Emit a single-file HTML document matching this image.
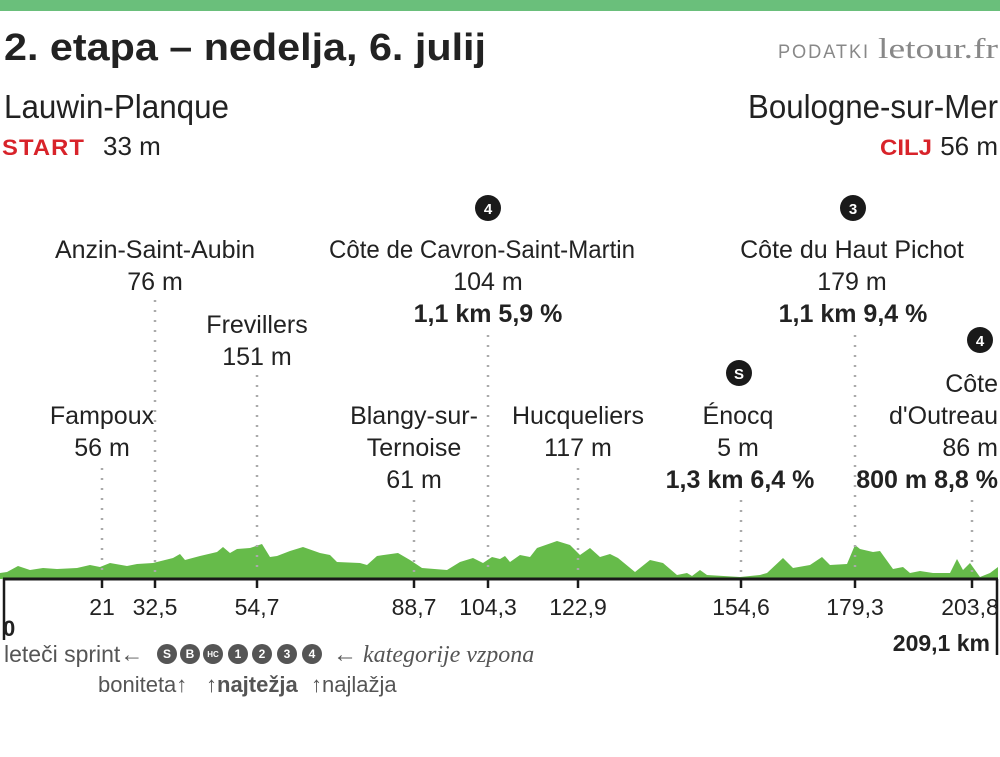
<!DOCTYPE html>
<html><head><meta charset="utf-8"><style>
html,body{margin:0;padding:0;background:#fff;}
svg{display:block;}
text{font-family:"Liberation Sans Narrow","Liberation Sans",sans-serif;fill:#222;}
.l{font-size:25px;text-anchor:middle;}
.b{font-weight:bold;}
.t{font-size:23px;text-anchor:middle;}
.dot{stroke:#aaa;stroke-width:2.5;stroke-dasharray:2 8;}
.bd circle{fill:#1a1a1a;}
.bd text{fill:#fff;font-size:15px;font-weight:bold;text-anchor:middle;font-family:"Liberation Sans",sans-serif;}
.lg circle{fill:#555;}
.lg text{fill:#fff;font-size:12px;font-weight:bold;text-anchor:middle;font-family:"Liberation Sans",sans-serif;}
</style></head><body>
<svg width="1000" height="757" viewBox="0 0 1000 757">
<rect x="0" y="0" width="1000" height="11" fill="#6abf7b"/>
<text x="4" y="60" font-size="38" font-weight="bold" textLength="482" lengthAdjust="spacingAndGlyphs">2. etapa  – nedelja, 6. julij</text>
<text x="778" y="58" font-size="19" style="fill:#888;letter-spacing:2px" textLength="92" lengthAdjust="spacingAndGlyphs">PODATKI</text>
<text x="878" y="58" font-size="29" style="fill:#888;font-family:'Liberation Serif',serif" textLength="120" lengthAdjust="spacingAndGlyphs">letour.fr</text>
<text x="4" y="118" font-size="33" textLength="225" lengthAdjust="spacingAndGlyphs">Lauwin-Planque</text>
<text x="998" y="118" font-size="33" text-anchor="end" textLength="250" lengthAdjust="spacingAndGlyphs">Boulogne-sur-Mer</text>
<text x="2" y="155" font-size="22" font-weight="bold" style="fill:#d8232a;letter-spacing:1px" textLength="83" lengthAdjust="spacingAndGlyphs">START</text>
<text x="103" y="155" font-size="26">33 m</text>
<text x="880" y="155" font-size="22" font-weight="bold" style="fill:#d8232a" textLength="52" lengthAdjust="spacingAndGlyphs">CILJ</text>
<text x="998" y="155" font-size="26" text-anchor="end">56 m</text>

<!-- profile -->
<polygon fill="#66bb4a" points="0,579 0,573 7,572 18,566 30,570 43,568 57,569 77,568 90,565 100,567 110,563 127,566 137,564 153,563 173,558 180,554 185,560 200,556 217,552 223,547 230,553 237,549 250,548 262,544 270,557 277,556 290,551 303,547 320,553 330,555 337,562 360,563 367,565 377,556 398,553 410,560 422,568 447,570 460,562 473,558 483,563 492,557 500,559 505,556 510,562 520,555 530,557 537,548 557,541 570,545 580,555 590,548 600,557 610,554 618,558 635,572 650,560 663,563 677,575 687,573 692,576 700,570 707,575 740,577 760,575 767,573 783,558 793,568 810,565 822,557 830,565 847,564 855,545 860,549 873,552 880,551 893,569 903,567 910,573 920,571 933,573 950,573 957,559 963,570 970,563 980,577 990,573 998,567 998,579"/>

<!-- dotted lines -->
<line class="dot" x1="102" y1="468" x2="102" y2="575"/>
<line class="dot" x1="155" y1="300" x2="155" y2="575"/>
<line class="dot" x1="257" y1="375" x2="257" y2="575"/>
<line class="dot" x1="414" y1="500" x2="414" y2="575"/>
<line class="dot" x1="488" y1="335" x2="488" y2="575"/>
<line class="dot" x1="578" y1="468" x2="578" y2="575"/>
<line class="dot" x1="741" y1="500" x2="741" y2="575"/>
<line class="dot" x1="855" y1="335" x2="855" y2="575"/>
<line class="dot" x1="972" y1="500" x2="972" y2="575"/>

<line x1="3" y1="579" x2="998" y2="579" stroke="#1a1a1a" stroke-width="3"/>
<line x1="4" y1="579" x2="4" y2="640" stroke="#1a1a1a" stroke-width="2.5"/>
<line x1="997" y1="579" x2="997" y2="655" stroke="#1a1a1a" stroke-width="2.5"/>
<g stroke="#1a1a1a" stroke-width="2.5">
<line x1="102" y1="579" x2="102" y2="588"/><line x1="155" y1="579" x2="155" y2="588"/><line x1="257" y1="579" x2="257" y2="588"/><line x1="414" y1="579" x2="414" y2="588"/><line x1="488" y1="579" x2="488" y2="588"/><line x1="578" y1="579" x2="578" y2="588"/><line x1="741" y1="579" x2="741" y2="588"/><line x1="855" y1="579" x2="855" y2="588"/><line x1="972" y1="579" x2="972" y2="588"/>
</g>
<text class="t" x="102" y="615">21</text><text class="t" x="155" y="615">32,5</text><text class="t" x="257" y="615">54,7</text><text class="t" x="414" y="615">88,7</text><text class="t" x="488" y="615">104,3</text><text class="t" x="578" y="615">122,9</text><text class="t" x="741" y="615">154,6</text><text class="t" x="855" y="615">179,3</text><text class="t" x="970" y="615">203,8</text>
<text x="3" y="636" font-size="22" font-weight="bold">0</text>
<text x="990" y="651" font-size="23" font-weight="bold" text-anchor="end">209,1 km</text>

<!-- labels -->
<text class="l" x="155" y="258">Anzin-Saint-Aubin</text>
<text class="l" x="155" y="290">76 m</text>
<text class="l" x="257" y="333">Frevillers</text>
<text class="l" x="257" y="365">151 m</text>
<text class="l" x="102" y="424">Fampoux</text>
<text class="l" x="102" y="456">56 m</text>
<text class="l" x="414" y="424">Blangy-sur-</text>
<text class="l" x="414" y="456">Ternoise</text>
<text class="l" x="414" y="488">61 m</text>
<text class="l" x="482" y="258" textLength="306" lengthAdjust="spacingAndGlyphs">Côte de Cavron-Saint-Martin</text>
<text class="l" x="488" y="290">104 m</text>
<text class="l b" x="488" y="322">1,1 km 5,9 %</text>
<text class="l" x="578" y="424">Hucqueliers</text>
<text class="l" x="578" y="456">117 m</text>
<text class="l" x="738" y="424">Énocq</text>
<text class="l" x="738" y="456">5 m</text>
<text class="l b" x="740" y="488">1,3 km 6,4 %</text>
<text class="l" x="852" y="258">Côte du Haut Pichot</text>
<text class="l" x="852" y="290">179 m</text>
<text class="l b" x="853" y="322">1,1 km 9,4 %</text>
<text class="l" x="998" y="392" style="text-anchor:end">Côte</text>
<text class="l" x="998" y="424" style="text-anchor:end">d'Outreau</text>
<text class="l" x="998" y="456" style="text-anchor:end">86 m</text>
<text class="l b" x="998" y="488" style="text-anchor:end">800 m 8,8 %</text>
<g class="bd">
<circle cx="488" cy="208" r="13"/><text x="488" y="214">4</text>
<circle cx="853" cy="208" r="13"/><text x="853" y="214">3</text>
<circle cx="739" cy="373" r="13"/><text x="739" y="379">S</text>
<circle cx="980" cy="340" r="13"/><text x="980" y="346">4</text>
</g>

<!-- legend -->
<text x="4" y="662" font-size="23" style="fill:#555">leteči sprint←</text>
<g class="lg">
<circle cx="167" cy="654" r="10"/><text x="167" y="658">S</text>
<circle cx="190" cy="654" r="10"/><text x="190" y="658">B</text>
<circle cx="213" cy="654" r="10"/><text x="213" y="657" style="font-size:8px">HC</text>
<circle cx="238" cy="654" r="10"/><text x="238" y="658">1</text>
<circle cx="262" cy="654" r="10"/><text x="262" y="658">2</text>
<circle cx="287" cy="654" r="10"/><text x="287" y="658">3</text>
<circle cx="312" cy="654" r="10"/><text x="312" y="658">4</text>
</g>
<text x="333" y="662" font-size="24" style="fill:#555;font-family:'Liberation Serif',serif;font-style:italic">← kategorije vzpona</text>
<text x="98" y="692" font-size="22" style="fill:#555">boniteta↑</text>
<text x="206" y="692" font-size="22" style="fill:#555"><tspan>↑</tspan><tspan font-weight="bold">najtežja</tspan></text>
<text x="311" y="692" font-size="22" style="fill:#555">↑najlažja</text>
</svg>
</body></html>
